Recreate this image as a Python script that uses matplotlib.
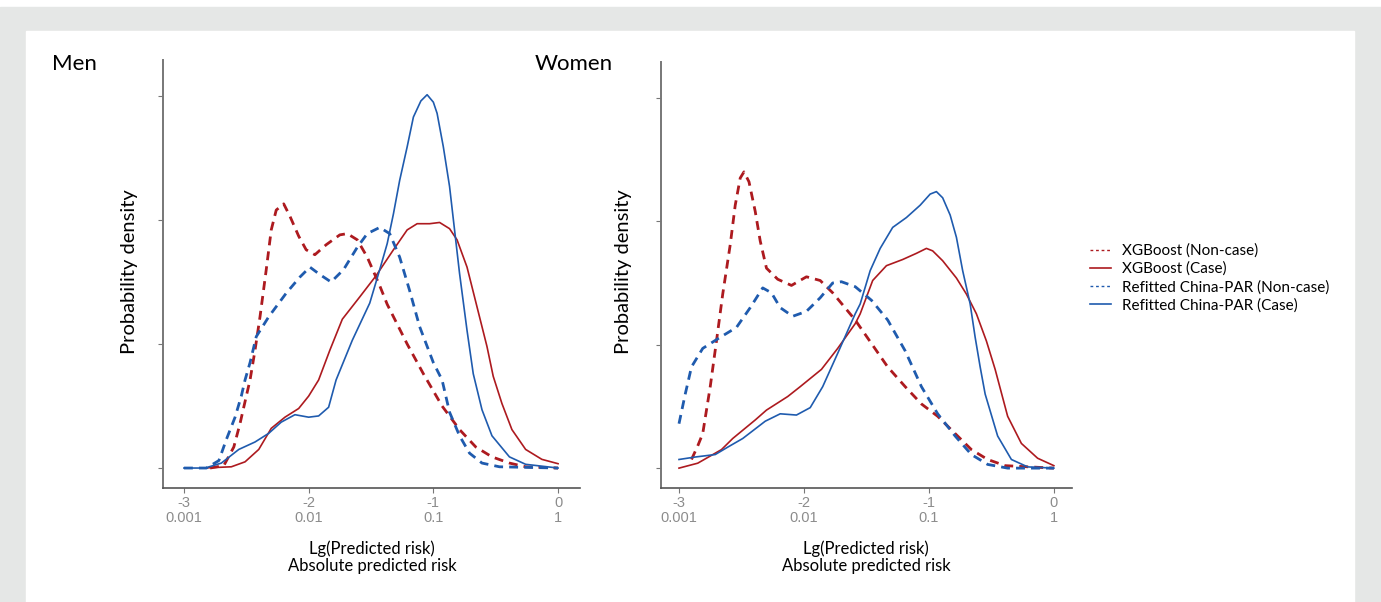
import matplotlib
matplotlib.use('Agg')
import matplotlib.pyplot as plt
from matplotlib.patches import Rectangle
from matplotlib.lines import Line2D

# data: x = lg(predicted risk), y = density (tick units)
men_xgb_non_x = [-2.79, -2.68, -2.60, -2.55, -2.50, -2.47, -2.43, -2.39, -2.34, -2.30, -2.26, -2.20, -2.15,
                 -2.08, -2.02, -1.95, -1.86, -1.75, -1.69, -1.61, -1.53, -1.43, -1.37, -1.32, -1.21,
                 -1.08, -0.93, -0.79, -0.66, -0.53, -0.39, -0.26, 0.0]
men_xgb_non_y = [0.0, 0.02, 0.17, 0.36, 0.58, 0.71, 0.95, 1.22, 1.60, 1.92, 2.08, 2.13, 2.03,
                 1.87, 1.76, 1.72, 1.80, 1.88, 1.89, 1.84, 1.70, 1.47, 1.32, 1.22, 1.00,
                 0.76, 0.50, 0.31, 0.17, 0.09, 0.04, 0.01, 0.0]

men_par_non_x = [-3.0, -2.82, -2.72, -2.66, -2.59, -2.54, -2.51, -2.47, -2.42, -2.32, -2.18, -2.07, -1.99,
                 -1.91, -1.82, -1.72, -1.61, -1.53, -1.43, -1.35, -1.27, -1.19, -1.11, -1.0, -0.93,
                 -0.87, -0.79, -0.71, -0.61, -0.47, 0.0]
men_par_non_y = [0.0, 0.0, 0.06, 0.23, 0.41, 0.58, 0.71, 0.85, 1.06, 1.22, 1.41, 1.54, 1.62,
                 1.56, 1.50, 1.60, 1.78, 1.89, 1.94, 1.89, 1.70, 1.43, 1.14, 0.85, 0.71,
                 0.45, 0.26, 0.12, 0.04, 0.01, 0.0]

men_xgb_case_x = [-2.85, -2.62, -2.51, -2.40, -2.30, -2.19, -2.08, -2.0, -1.92, -1.83, -1.73, -1.59, -1.46,
                  -1.32, -1.21, -1.13, -1.03, -0.95, -0.87, -0.81, -0.73, -0.65, -0.57, -0.52, -0.45,
                  -0.37, -0.26, -0.13, 0.0]
men_xgb_case_y = [0.0, 0.01, 0.05, 0.15, 0.32, 0.41, 0.48, 0.58, 0.71, 0.95, 1.20, 1.38, 1.55,
                  1.76, 1.92, 1.97, 1.97, 1.98, 1.93, 1.84, 1.62, 1.30, 0.98, 0.74, 0.52,
                  0.31, 0.15, 0.07, 0.035]

men_par_case_x = [-3.0, -2.83, -2.70, -2.56, -2.43, -2.32, -2.22, -2.11, -2.0, -1.92, -1.84, -1.78, -1.65,
                  -1.51, -1.43, -1.37, -1.32, -1.27, -1.21, -1.16, -1.10, -1.05, -1.0, -0.97, -0.92,
                  -0.87, -0.83, -0.79, -0.73, -0.68, -0.61, -0.53, -0.39, -0.26, 0.0]
men_par_case_y = [0.0, 0.0, 0.04, 0.15, 0.21, 0.28, 0.37, 0.43, 0.41, 0.42, 0.49, 0.71, 1.03,
                  1.33, 1.60, 1.81, 2.05, 2.32, 2.59, 2.83, 2.96, 3.01, 2.95, 2.86, 2.59,
                  2.27, 1.92, 1.57, 1.11, 0.76, 0.47, 0.26, 0.09, 0.03, 0.0]

women_xgb_non_x = [-2.90, -2.85, -2.81, -2.75, -2.70, -2.65, -2.59, -2.55, -2.51, -2.48, -2.44, -2.39, -2.35,
                   -2.30, -2.21, -2.10, -1.98, -1.87, -1.77, -1.59, -1.46, -1.33, -1.19, -1.06, -0.93,
                   -0.79, -0.66, -0.53, -0.39, 0.0]
women_xgb_non_y = [0.07, 0.18, 0.28, 0.66, 1.03, 1.41, 1.81, 2.13, 2.35, 2.40, 2.32, 2.08, 1.84,
                   1.62, 1.53, 1.48, 1.55, 1.52, 1.42, 1.20, 1.01, 0.82, 0.66, 0.52, 0.42,
                   0.28, 0.15, 0.07, 0.02, 0.0]

women_par_non_x = [-3.0, -2.95, -2.90, -2.81, -2.67, -2.54, -2.43, -2.33, -2.26, -2.19, -2.09, -1.98, -1.87,
                   -1.77, -1.70, -1.59, -1.46, -1.33, -1.19, -1.06, -0.93, -0.79, -0.66, -0.53, -0.37, 0.0]
women_par_non_y = [0.36, 0.60, 0.82, 0.97, 1.06, 1.14, 1.30, 1.46, 1.42, 1.30, 1.23, 1.27, 1.38,
                   1.50, 1.51, 1.47, 1.36, 1.20, 0.95, 0.66, 0.44, 0.26, 0.11, 0.03, 0.0, 0.0]

women_xgb_case_x = [-3.0, -2.85, -2.66, -2.57, -2.39, -2.30, -2.13, -2.03, -1.86, -1.73, -1.59, -1.55, -1.45,
                    -1.34, -1.21, -1.10, -1.02, -0.97, -0.89, -0.78, -0.70, -0.62, -0.54, -0.47, -0.37,
                    -0.26, -0.13, 0.0]
women_xgb_case_y = [0.0, 0.04, 0.15, 0.24, 0.39, 0.47, 0.58, 0.66, 0.80, 0.97, 1.17, 1.25, 1.52,
                    1.64, 1.69, 1.74, 1.78, 1.76, 1.68, 1.54, 1.41, 1.25, 1.03, 0.80, 0.42,
                    0.20, 0.08, 0.02]

women_par_case_x = [-3.0, -2.87, -2.71, -2.61, -2.49, -2.31, -2.19, -2.06, -1.95, -1.85, -1.73, -1.59, -1.55,
                    -1.47, -1.39, -1.29, -1.18, -1.07, -0.99, -0.94, -0.89, -0.83, -0.78, -0.73, -0.67,
                    -0.63, -0.59, -0.55, -0.45, -0.34, -0.21, 0.0]
women_par_case_y = [0.07, 0.09, 0.11, 0.17, 0.24, 0.38, 0.44, 0.43, 0.49, 0.66, 0.93, 1.25, 1.33,
                    1.60, 1.78, 1.95, 2.03, 2.13, 2.22, 2.24, 2.19, 2.05, 1.87, 1.60, 1.33,
                    1.06, 0.82, 0.60, 0.26, 0.07, 0.01, 0.0]

tick_vals = [-3, -2, -1, 0]
tick_labels = ['-3\n0.001', '-2\n0.01', '-1\n0.1', '0\n1']
legend_labels = ['XGBoost (Non-case)', 'XGBoost (Case)', 'Refitted China-PAR (Non-case)', 'Refitted China-PAR (Case)']

RED = '#AD1A1F'
BLUE = '#1F5BAE'
W, H = 1381, 602

fig = plt.figure(figsize=(W / 100, H / 100), dpi=100)
fig.patch.set_facecolor('white')
# gray frame and white panel
fig.patches.append(Rectangle((0, 0), 1, 1 - 7 / H, transform=fig.transFigure, color='#E5E7E6', zorder=-2))
fig.patches.append(Rectangle((26 / W, 0), (1354 - 26) / W, 1 - 31 / H, transform=fig.transFigure,
                             color='white', zorder=-1))


def px_ax(x0, x1, ytop, ybot):
    return [x0 / W, 1 - ybot / H, (x1 - x0) / W, (ybot - ytop) / H]


def style(ax, xlim):
    ax.set_xlim(*xlim)
    ax.set_ylim(-0.161, 3.29)
    ax.set_facecolor('none')
    for s in ['top', 'right']:
        ax.spines[s].set_visible(False)
    ax.spines['left'].set_color('#777777')
    ax.spines['left'].set_linewidth(1.4)
    ax.spines['bottom'].set_color('#555555')
    ax.spines['bottom'].set_linewidth(1.2)
    ax.set_xticks(tick_vals)
    ax.set_xticklabels(tick_labels, fontsize=10.5, color='#8C8C8C', family='Liberation Sans',
                       linespacing=1.15)
    ax.set_yticks([0, 1, 2, 3])
    ax.set_yticklabels([])
    ax.tick_params(axis='both', length=3.5, width=0.8, color='#777777', direction='out', pad=2)


def draw(ax, xn, yn, xc, yc, pxn, pyn, pxc, pyc):
    ax.plot(xn, yn, color=RED, lw=2.0, ls=(0, (3.2, 2.2)))
    ax.plot(xc, yc, color=RED, lw=1.2)
    ax.plot(pxn, pyn, color=BLUE, lw=2.0, ls=(0, (3.2, 2.2)))
    ax.plot(pxc, pyc, color=BLUE, lw=1.2)


ax1 = fig.add_axes(px_ax(163, 580, 60, 488))
style(ax1, (-3.168, 0.176))
draw(ax1, men_xgb_non_x, men_xgb_non_y, men_xgb_case_x, men_xgb_case_y,
     men_par_non_x, men_par_non_y, men_par_case_x, men_par_case_y)

ax2 = fig.add_axes(px_ax(661, 1072, 62, 488))
style(ax2, (-3.144, 0.145))
draw(ax2, women_xgb_non_x, women_xgb_non_y, women_xgb_case_x, women_xgb_case_y,
     women_par_non_x, women_par_non_y, women_par_case_x, women_par_case_y)

tf = dict(family='Lato', color='black')
fig.text(52 / W, 1 - 64 / H, 'Men', fontsize=16, ha='left', va='center', **tf)
fig.text(535 / W, 1 - 64 / H, 'Women', fontsize=16, ha='left', va='center', **tf)
fig.text(129 / W, 1 - 272 / H, 'Probability density', fontsize=14.5, rotation=90, ha='center', va='center', **tf)
fig.text(623 / W, 1 - 272 / H, 'Probability density', fontsize=14.5, rotation=90, ha='center', va='center', **tf)
for cx in [372, 866]:
    fig.text(cx / W, 1 - 557 / H, 'Lg(Predicted risk)\nAbsolute predicted risk', fontsize=12,
             ha='center', va='center', linespacing=1.05, **tf)

handles = [Line2D([], [], color=RED, lw=1.0, ls=(0, (2, 2))),
           Line2D([], [], color=RED, lw=1.2),
           Line2D([], [], color=BLUE, lw=1.0, ls=(0, (2, 2))),
           Line2D([], [], color=BLUE, lw=1.2)]
fig.legend(handles, legend_labels, loc='upper left', bbox_to_anchor=(1082 / W, 1 - 236 / H),
           frameon=False, prop={'family': 'Lato', 'size': 11}, handlelength=1.4, handletextpad=0.7,
           labelspacing=0.25, borderpad=0)

fig.savefig('out.png', dpi=100)
